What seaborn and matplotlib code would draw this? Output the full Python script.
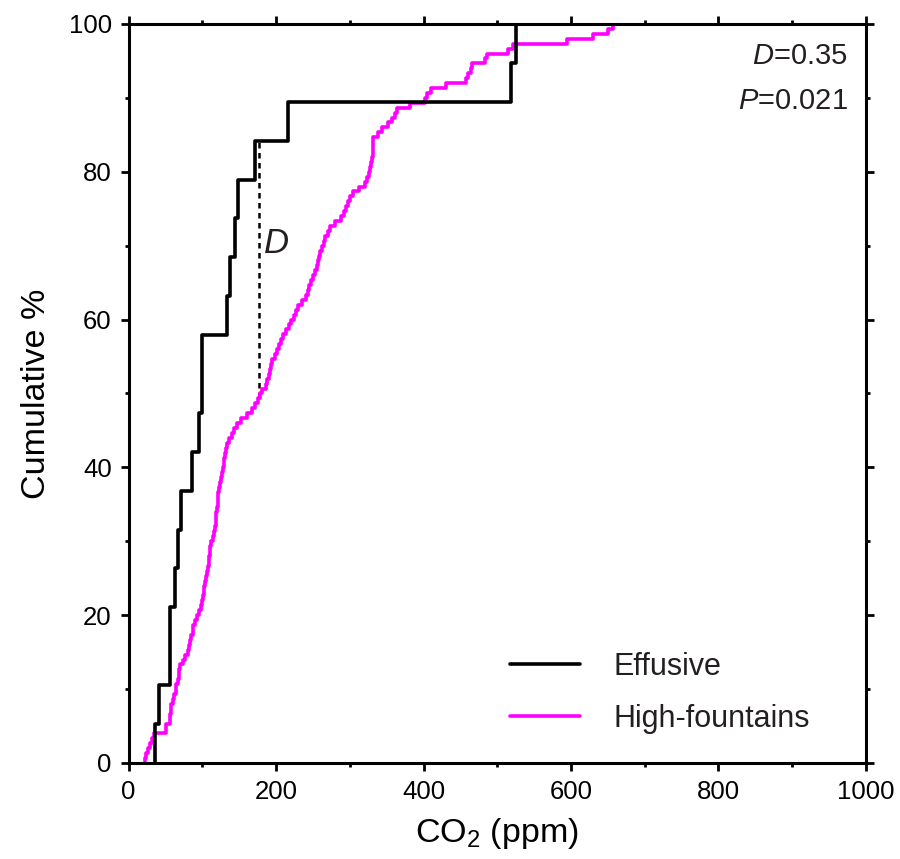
import matplotlib
matplotlib.use("Agg")
import matplotlib.pyplot as plt
from matplotlib.ticker import MultipleLocator
from matplotlib.lines import Line2D
import numpy as np
import pandas as pd
import seaborn as sns

# CO2 concentrations (ppm) of the two eruption styles
effusive_co2 = [36, 42, 56, 56, 63, 67, 71, 86, 95, 99, 100, 134, 137, 144,
                149, 171, 216, 519, 526]

fountain_co2 = [22, 24, 27, 29, 32, 34, 51, 51, 56, 56, 57, 58, 60, 62, 64,
                65, 67, 68, 69, 70, 74, 77, 80, 82, 84, 85, 87, 88, 90, 93,
                96, 98, 100, 101, 102, 103, 104, 105, 107, 108, 109, 109, 110,
                110, 112, 114, 116, 117, 118, 119, 119, 120, 121, 121, 122,
                123, 124, 126, 127, 128, 129, 130, 131, 132, 133, 136, 140,
                143, 147, 153, 160, 167, 172, 175, 178, 181, 186, 188, 190,
                192, 193, 195, 198, 201, 204, 207, 210, 213, 218, 221, 224,
                227, 230, 235, 240, 243, 245, 248, 250, 253, 255, 257, 258,
                260, 262, 265, 267, 270, 273, 280, 288, 292, 295, 298, 301,
                304, 312, 320, 323, 326, 328, 329, 330, 331, 331, 332, 332,
                338, 344, 352, 357, 361, 364, 382, 402, 405, 410, 430, 458,
                461, 464, 466, 484, 486, 514, 522, 595, 630, 650, 657]

group_names = ["Effusive", "High-fountains"]
group_colors = ["#000000", "#ff00ff"]

ks_d_label = "0.35"
ks_p_label = "0.021"
d_position = 177  # CO2 value where the largest gap occurs

x_ticks = [0, 200, 400, 600, 800, 1000]
y_ticks = [0, 20, 40, 60, 80, 100]

sns.set_theme(style="ticks")
plt.rcParams["font.family"] = ["Liberation Sans", "DejaVu Sans"]
plt.rcParams["mathtext.fontset"] = "custom"
plt.rcParams["mathtext.rm"] = "Liberation Sans"
plt.rcParams["mathtext.it"] = "Liberation Sans:italic"
plt.rcParams["text.color"] = "black"
plt.rcParams["axes.labelcolor"] = "black"
plt.rcParams["xtick.color"] = "black"
plt.rcParams["ytick.color"] = "black"

df = pd.concat([
    pd.DataFrame({"co2": effusive_co2, "group": group_names[0]}),
    pd.DataFrame({"co2": fountain_co2, "group": group_names[1]}),
], ignore_index=True)

fig = plt.figure(figsize=(9.0, 8.59), dpi=100)
ax = fig.add_axes([0.1428, 0.1118, 0.8194, 0.8603])

lw = 2.6
for name, color in zip(group_names, group_colors):
    sns.ecdfplot(data=df[df["group"] == name], x="co2", stat="percent",
                 color=color, linewidth=lw, ax=ax,
                 zorder=3 if name == "Effusive" else 2)

# Dashed marker of the maximum vertical distance between the two ECDFs
eff_arr = np.sort(np.array(effusive_co2))
fou_arr = np.sort(np.array(fountain_co2))
top = 100.0 * np.searchsorted(eff_arr, d_position, side="right") / len(eff_arr)
bottom = 100.0 * np.searchsorted(fou_arr, d_position, side="right") / len(fou_arr)
ax.plot([d_position, d_position], [bottom, top], color="black",
        linestyle=(0, (2.2, 1.8)), linewidth=1.8, zorder=1)
ax.text(d_position + 5, (top + bottom) / 2 + 3.5, "$D$", fontsize=25,
        ha="left", va="center", color="#231f20")

ax.text(0.975, 0.975, "$D$=" + ks_d_label, transform=ax.transAxes,
        fontsize=21, ha="right", va="top", color="#231f20")
ax.text(0.975, 0.915, "$P$=" + ks_p_label, transform=ax.transAxes,
        fontsize=21, ha="right", va="top", color="#231f20")

ax.set_xlim(0, 1000)
ax.set_ylim(0, 100)
ax.set_xticks(x_ticks)
ax.set_yticks(y_ticks)
ax.xaxis.set_minor_locator(MultipleLocator(100))
ax.yaxis.set_minor_locator(MultipleLocator(10))
ax.tick_params(which="both", direction="out", top=True, right=True,
               labeltop=False, labelright=False, width=2.0, color="black")
ax.tick_params(which="major", length=6, labelsize=18.5, pad=6)
ax.tick_params(which="minor", length=3)
for side in ["left", "right", "top", "bottom"]:
    ax.spines[side].set_visible(True)
    ax.spines[side].set_linewidth(2.2)
    ax.spines[side].set_color("black")

ax.set_xlabel("CO$_2$ (ppm)", fontsize=24.5, labelpad=9)
ax.set_ylabel("Cumulative %", fontsize=24.5, labelpad=12)

handles = [Line2D([0], [0], color=c, linewidth=lw) for c in group_colors]
ax.legend(handles, group_names, loc="lower right", bbox_to_anchor=(0.962, 0.002),
          frameon=False, fontsize=22, handlelength=2.3, handletextpad=1.1,
          labelspacing=0.72, labelcolor="#231f20")

fig.savefig("out.png", dpi=100)
